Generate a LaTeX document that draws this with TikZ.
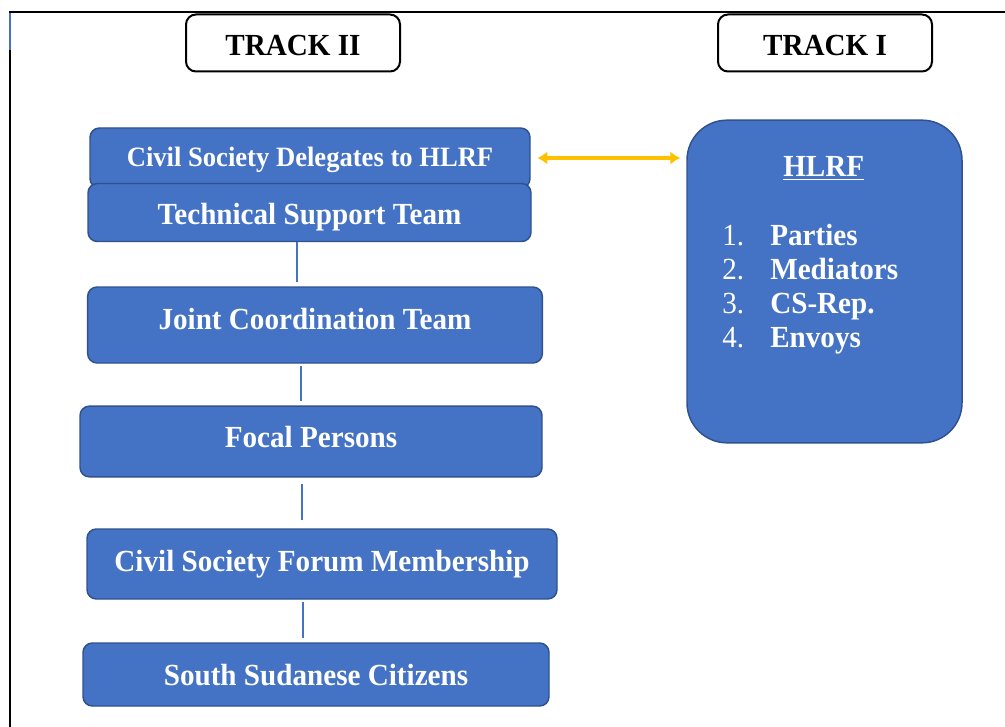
\documentclass[tikz,border=0pt]{standalone}
\usepackage{fontspec}
\setmainfont{Liberation Serif}[FakeStretch=0.95]
\usetikzlibrary{arrows.meta}
\definecolor{boxblue}{HTML}{4472C4}
\definecolor{boxedge}{HTML}{2F528F}
\definecolor{arrowgold}{HTML}{FFC000}
\begin{document}
\begin{tikzpicture}[x=0.75pt,y=-0.75pt,
  bigfont/.style={font=\fontsize{23}{27}\selectfont\bfseries},
  tb/.style={text height=#1,text depth=0pt},
  trackbox/.style={draw=black,line width=1.5pt,rounded corners=7.5pt,fill=white,bigfont,
    minimum width=160.5pt,minimum height=42.75pt,inner sep=0pt,tb=19pt},
  bluebox/.style={draw=boxedge,line width=1.1pt,fill=boxblue,rounded corners=7pt,
    text=white,bigfont,inner sep=0pt},
  conn/.style={draw=boxblue,line width=0.8pt},
  listnum/.style={anchor=base west,text=white,inner sep=0pt,font=\fontsize{23}{27}\selectfont},
  listitem/.style={anchor=base west,text=white,inner sep=0pt,bigfont},
  linkarrow/.style={draw=arrowgold,line width=2.4pt,
    {Latex[length=7.5pt,width=10pt]}-{Latex[length=7.5pt,width=10pt]}}
]
\useasboundingbox (0,0) rectangle (1005,727);
% frame
\draw[line width=1.5pt] (10,727) -- (10,12) -- (1005,12);
\draw[boxblue,line width=1.5pt] (10,13) -- (10,50);

% track headers
\node[trackbox] (track2) at (293,43) {TRACK II};
\node[trackbox] (track1) at (825,43) {TRACK I};

% track II column
\node[bluebox,minimum width=330pt,minimum height=45pt,tb=13.5pt,
  font=\fontsize{21}{25}\selectfont\bfseries] (csd) at (310,158) {Civil Society Delegates to HLRF};
\node[bluebox,minimum width=332.25pt,minimum height=43.5pt,tb=18pt] (tst) at (309.5,212.5) {Technical Support Team};
\node[bluebox,minimum width=341pt,minimum height=57pt,tb=6.75pt] (jct) at (315,325) {Joint Coordination Team};
\node[bluebox,minimum width=346.5pt,minimum height=53pt,tb=9pt] (fp) at (311,441.5) {Focal Persons};
\node[bluebox,minimum width=352.5pt,minimum height=52.5pt,tb=11.25pt] (csfm) at (322,564) {Civil Society Forum Membership};
\node[bluebox,minimum width=349.5pt,minimum height=47.25pt,tb=15.75pt] (ssc) at (316,674.5) {South Sudanese Citizens};

% track I box
\node[bluebox,rounded corners=30pt,minimum width=206.25pt,minimum height=242pt] (hlrf) at (824.5,281.5) {};
\node[listitem] (hlrftitle) at (783,177) {\underline{HLRF}};
\node[listnum] (n1) at (722,245) {1.};
\node[listitem] (i1) at (770,245) {Parties};
\node[listnum] (n2) at (722,279) {2.};
\node[listitem] (i2) at (770,279) {Mediators};
\node[listnum] (n3) at (722,313) {3.};
\node[listitem] (i3) at (770,313) {CS-Rep.};
\node[listnum] (n4) at (722,347) {4.};
\node[listitem] (i4) at (770,347) {Envoys};

% connectors
\coordinate (v1) at (297,0);
\coordinate (v2) at (301,0);
\coordinate (v3) at (302,0);
\coordinate (v4) at (303,0);
\draw[conn,shorten >=3pt] (tst.south -| v1) -- (jct.north -| v1);
\draw[conn,shorten <=2pt,shorten >=3pt] (jct.south -| v2) -- (fp.north -| v2);
\draw[conn,shorten <=4.5pt,shorten >=6.5pt] (fp.south -| v3) -- (csfm.north -| v3);
\draw[conn,shorten <=1.5pt,shorten >=3.5pt] (csfm.south -| v4) -- (ssc.north -| v4);

\draw[linkarrow,shorten <=5pt,shorten >=4.5pt] (csd.east) -- (csd.east -| hlrf.west);
\end{tikzpicture}
\end{document}
